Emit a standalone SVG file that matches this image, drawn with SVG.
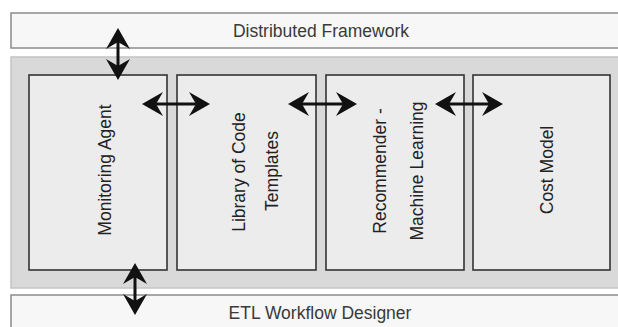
<svg xmlns="http://www.w3.org/2000/svg" width="618" height="327" viewBox="0 0 618 327">
  <style>
    .bar { fill: #f7f7f7; stroke: #8c8c8c; stroke-width: 1.5; }
    .panel { fill: #d9d9d9; stroke: #c4c4c4; stroke-width: 1.5; }
    .box { fill: #ececec; stroke: #333; stroke-width: 1.6; }
    .bar-label { font-family: "Liberation Sans", Arial, sans-serif; font-size: 17.5px; fill: #3a3a3a; text-anchor: middle; }
    .label { font-family: "Liberation Sans", Arial, sans-serif; font-size: 17.5px; fill: #222; text-anchor: middle; }
    .conn { stroke: #111; stroke-width: 3; fill: none; marker-start: url(#head); marker-end: url(#head); }
  </style>
  <defs>
    <!-- concave double-ended arrowhead, tip 14px past the line end -->
    <marker id="head" markerUnits="userSpaceOnUse" markerWidth="40" markerHeight="40" refX="0" refY="0" orient="auto-start-reverse" overflow="visible" viewBox="-20 -20 40 40">
      <path d="M14,0 L-7,-12 L0,0 L-7,12 Z" fill="#111"/>
    </marker>
  </defs>

  <g id="distributed-framework">
    <rect class="bar" x="11" y="13" width="612" height="35"/>
    <text class="bar-label" x="321" y="37">Distributed Framework</text>
  </g>

  <g id="core-panel">
    <rect class="panel" x="11" y="57" width="612" height="231"/>
  </g>

  <g id="etl-workflow-designer">
    <rect class="bar" x="11" y="295" width="612" height="40"/>
    <text class="bar-label" x="320" y="319">ETL Workflow Designer</text>
  </g>

  <g id="monitoring-agent">
    <rect class="box" x="29" y="75" width="138" height="195"/>
    <text class="label" transform="translate(110.5,170) rotate(-90)">Monitoring Agent</text>
  </g>

  <g id="library-of-code-templates">
    <rect class="box" x="177" y="75" width="139" height="195"/>
    <text class="label" transform="translate(245,172) rotate(-90)">Library of Code</text>
    <text class="label" transform="translate(278,171) rotate(-90)">Templates</text>
  </g>

  <g id="recommender-machine-learning">
    <rect class="box" x="326" y="75" width="138" height="195"/>
    <text class="label" transform="translate(386,171) rotate(-90)">Recommender -</text>
    <text class="label" transform="translate(423,171) rotate(-90)">Machine Learning</text>
  </g>

  <g id="cost-model">
    <rect class="box" x="473" y="75" width="137" height="195"/>
    <text class="label" transform="translate(553,170) rotate(-90)">Cost Model</text>
  </g>

  <g id="connectors">
    <line class="conn" x1="118" y1="42" x2="118" y2="66"/>
    <line class="conn" x1="135" y1="277" x2="135" y2="301"/>
    <line class="conn" x1="156" y1="104" x2="196" y2="104"/>
    <line class="conn" x1="302" y1="104" x2="343" y2="104"/>
    <line class="conn" x1="449" y1="104" x2="489" y2="104"/>
  </g>
</svg>
